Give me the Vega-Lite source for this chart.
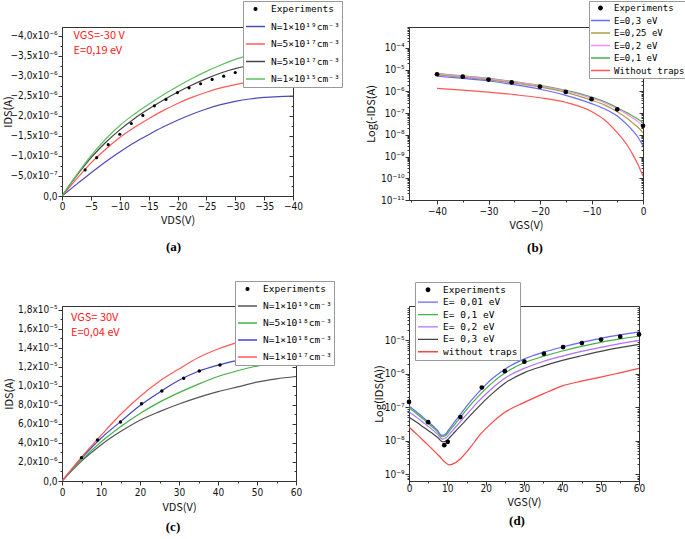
{
  "$schema": "https://vega.github.io/schema/vega-lite/v6.json",
  "padding": {"left": 2, "top": 0, "right": 0, "bottom": 0},
  "background": "white",
  "columns": 2,
  "bounds": "flush",
  "align": "each",
  "spacing": {"row": 106, "column": 113},
  "resolve": {"scale": {"color": "independent"}, "legend": {"color": "independent"}},
  "datasets": {
    "a": [
      {"series": "Experiments", "V": -4, "I": -0.65e-6}, {"series": "Experiments", "V": -6, "I": -0.956e-6},
      {"series": "Experiments", "V": -8, "I": -1.28e-6}, {"series": "Experiments", "V": -10, "I": -1.54e-6},
      {"series": "Experiments", "V": -12, "I": -1.81e-6}, {"series": "Experiments", "V": -14, "I": -2.01e-6},
      {"series": "Experiments", "V": -16, "I": -2.25e-6}, {"series": "Experiments", "V": -18, "I": -2.41e-6},
      {"series": "Experiments", "V": -20, "I": -2.58e-6}, {"series": "Experiments", "V": -22, "I": -2.70e-6},
      {"series": "Experiments", "V": -24, "I": -2.80e-6}, {"series": "Experiments", "V": -26, "I": -2.91e-6},
      {"series": "Experiments", "V": -28, "I": -2.99e-6}, {"series": "Experiments", "V": -30, "I": -3.08e-6},
      {"series": "N=1×10¹⁹cm⁻³", "V": 0, "I": 0}, {"series": "N=1×10¹⁹cm⁻³", "V": -2.5, "I": -0.29e-6},
      {"series": "N=1×10¹⁹cm⁻³", "V": -5, "I": -0.575e-6}, {"series": "N=1×10¹⁹cm⁻³", "V": -7.5, "I": -0.85e-6},
      {"series": "N=1×10¹⁹cm⁻³", "V": -10, "I": -1.10e-6}, {"series": "N=1×10¹⁹cm⁻³", "V": -12.5, "I": -1.33e-6},
      {"series": "N=1×10¹⁹cm⁻³", "V": -15, "I": -1.53e-6}, {"series": "N=1×10¹⁹cm⁻³", "V": -17.5, "I": -1.72e-6},
      {"series": "N=1×10¹⁹cm⁻³", "V": -20, "I": -1.89e-6}, {"series": "N=1×10¹⁹cm⁻³", "V": -22.5, "I": -2.04e-6},
      {"series": "N=1×10¹⁹cm⁻³", "V": -25, "I": -2.17e-6}, {"series": "N=1×10¹⁹cm⁻³", "V": -27.5, "I": -2.28e-6},
      {"series": "N=1×10¹⁹cm⁻³", "V": -30, "I": -2.36e-6}, {"series": "N=1×10¹⁹cm⁻³", "V": -32.5, "I": -2.42e-6},
      {"series": "N=1×10¹⁹cm⁻³", "V": -35, "I": -2.46e-6}, {"series": "N=1×10¹⁹cm⁻³", "V": -37.5, "I": -2.48e-6},
      {"series": "N=1×10¹⁹cm⁻³", "V": -40, "I": -2.49e-6},
      {"series": "N=5×10¹⁷cm⁻³", "V": 0, "I": 0}, {"series": "N=5×10¹⁷cm⁻³", "V": -2.5, "I": -0.42e-6},
      {"series": "N=5×10¹⁷cm⁻³", "V": -5, "I": -0.82e-6}, {"series": "N=5×10¹⁷cm⁻³", "V": -7.5, "I": -1.16e-6},
      {"series": "N=5×10¹⁷cm⁻³", "V": -10, "I": -1.46e-6}, {"series": "N=5×10¹⁷cm⁻³", "V": -12.5, "I": -1.71e-6},
      {"series": "N=5×10¹⁷cm⁻³", "V": -15, "I": -1.93e-6}, {"series": "N=5×10¹⁷cm⁻³", "V": -17.5, "I": -2.13e-6},
      {"series": "N=5×10¹⁷cm⁻³", "V": -20, "I": -2.31e-6}, {"series": "N=5×10¹⁷cm⁻³", "V": -22.5, "I": -2.46e-6},
      {"series": "N=5×10¹⁷cm⁻³", "V": -25, "I": -2.59e-6}, {"series": "N=5×10¹⁷cm⁻³", "V": -27.5, "I": -2.70e-6},
      {"series": "N=5×10¹⁷cm⁻³", "V": -30, "I": -2.78e-6}, {"series": "N=5×10¹⁷cm⁻³", "V": -32.5, "I": -2.84e-6},
      {"series": "N=5×10¹⁷cm⁻³", "V": -35, "I": -2.88e-6}, {"series": "N=5×10¹⁷cm⁻³", "V": -37.5, "I": -2.91e-6},
      {"series": "N=5×10¹⁷cm⁻³", "V": -40, "I": -2.92e-6},
      {"series": "N=5×10¹⁷cm⁻³ #2", "V": 0, "I": 0}, {"series": "N=5×10¹⁷cm⁻³ #2", "V": -2.5, "I": -0.50e-6},
      {"series": "N=5×10¹⁷cm⁻³ #2", "V": -5, "I": -0.95e-6}, {"series": "N=5×10¹⁷cm⁻³ #2", "V": -7.5, "I": -1.33e-6},
      {"series": "N=5×10¹⁷cm⁻³ #2", "V": -10, "I": -1.65e-6}, {"series": "N=5×10¹⁷cm⁻³ #2", "V": -12.5, "I": -1.93e-6},
      {"series": "N=5×10¹⁷cm⁻³ #2", "V": -15, "I": -2.17e-6}, {"series": "N=5×10¹⁷cm⁻³ #2", "V": -17.5, "I": -2.39e-6},
      {"series": "N=5×10¹⁷cm⁻³ #2", "V": -20, "I": -2.59e-6}, {"series": "N=5×10¹⁷cm⁻³ #2", "V": -22.5, "I": -2.77e-6},
      {"series": "N=5×10¹⁷cm⁻³ #2", "V": -25, "I": -2.93e-6}, {"series": "N=5×10¹⁷cm⁻³ #2", "V": -27.5, "I": -3.07e-6},
      {"series": "N=5×10¹⁷cm⁻³ #2", "V": -30, "I": -3.18e-6}, {"series": "N=5×10¹⁷cm⁻³ #2", "V": -32.5, "I": -3.25e-6},
      {"series": "N=5×10¹⁷cm⁻³ #2", "V": -35, "I": -3.29e-6}, {"series": "N=5×10¹⁷cm⁻³ #2", "V": -37.5, "I": -3.31e-6},
      {"series": "N=5×10¹⁷cm⁻³ #2", "V": -40, "I": -3.32e-6},
      {"series": "N=1×10¹⁵cm⁻³", "V": 0, "I": 0}, {"series": "N=1×10¹⁵cm⁻³", "V": -2.5, "I": -0.52e-6},
      {"series": "N=1×10¹⁵cm⁻³", "V": -5, "I": -1.0e-6}, {"series": "N=1×10¹⁵cm⁻³", "V": -7.5, "I": -1.41e-6},
      {"series": "N=1×10¹⁵cm⁻³", "V": -10, "I": -1.76e-6}, {"series": "N=1×10¹⁵cm⁻³", "V": -12.5, "I": -2.04e-6},
      {"series": "N=1×10¹⁵cm⁻³", "V": -15, "I": -2.29e-6}, {"series": "N=1×10¹⁵cm⁻³", "V": -17.5, "I": -2.52e-6},
      {"series": "N=1×10¹⁵cm⁻³", "V": -20, "I": -2.73e-6}, {"series": "N=1×10¹⁵cm⁻³", "V": -22.5, "I": -2.93e-6},
      {"series": "N=1×10¹⁵cm⁻³", "V": -25, "I": -3.11e-6}, {"series": "N=1×10¹⁵cm⁻³", "V": -27.5, "I": -3.27e-6},
      {"series": "N=1×10¹⁵cm⁻³", "V": -30, "I": -3.41e-6}, {"series": "N=1×10¹⁵cm⁻³", "V": -32.5, "I": -3.51e-6},
      {"series": "N=1×10¹⁵cm⁻³", "V": -35, "I": -3.57e-6}, {"series": "N=1×10¹⁵cm⁻³", "V": -37.5, "I": -3.61e-6},
      {"series": "N=1×10¹⁵cm⁻³", "V": -40, "I": -3.63e-6}
    ],
    "b": [
      {"series": "Experiments", "V": -40, "I": 6.2e-6}, {"series": "Experiments", "V": -35, "I": 4.8e-6},
      {"series": "Experiments", "V": -30, "I": 3.5e-6}, {"series": "Experiments", "V": -25.5, "I": 2.6e-6},
      {"series": "Experiments", "V": -20, "I": 1.66e-6}, {"series": "Experiments", "V": -15, "I": 9.5e-7},
      {"series": "Experiments", "V": -10, "I": 4.4e-7}, {"series": "Experiments", "V": -5, "I": 1.5e-7},
      {"series": "Experiments", "V": 0, "I": 2.6e-8},
      {"series": "E=0,1 eV", "V": -40, "I": 6.61e-6}, {"series": "E=0,1 eV", "V": -35, "I": 5.25e-6},
      {"series": "E=0,1 eV", "V": -30, "I": 3.98e-6}, {"series": "E=0,1 eV", "V": -25, "I": 2.82e-6},
      {"series": "E=0,1 eV", "V": -20, "I": 1.91e-6}, {"series": "E=0,1 eV", "V": -15, "I": 1.12e-6},
      {"series": "E=0,1 eV", "V": -10, "I": 5.5e-7}, {"series": "E=0,1 eV", "V": -7.5, "I": 3.39e-7},
      {"series": "E=0,1 eV", "V": -5, "I": 1.78e-7}, {"series": "E=0,1 eV", "V": -3, "I": 1.0e-7},
      {"series": "E=0,1 eV", "V": -2, "I": 7.41e-8}, {"series": "E=0,1 eV", "V": -1, "I": 5.37e-8},
      {"series": "E=0,1 eV", "V": 0, "I": 3.63e-8},
      {"series": "E=0,2 eV", "V": -40, "I": 6.46e-6}, {"series": "E=0,2 eV", "V": -35, "I": 5.01e-6},
      {"series": "E=0,2 eV", "V": -30, "I": 3.80e-6}, {"series": "E=0,2 eV", "V": -25, "I": 2.69e-6},
      {"series": "E=0,2 eV", "V": -20, "I": 1.78e-6}, {"series": "E=0,2 eV", "V": -15, "I": 1.05e-6},
      {"series": "E=0,2 eV", "V": -10, "I": 4.9e-7}, {"series": "E=0,2 eV", "V": -7.5, "I": 3.02e-7},
      {"series": "E=0,2 eV", "V": -5, "I": 1.58e-7}, {"series": "E=0,2 eV", "V": -3, "I": 8.5e-8},
      {"series": "E=0,2 eV", "V": -2, "I": 6.03e-8}, {"series": "E=0,2 eV", "V": -1, "I": 4.17e-8},
      {"series": "E=0,2 eV", "V": 0, "I": 2.57e-8},
      {"series": "E=0,25 eV", "V": -40, "I": 5.75e-6}, {"series": "E=0,25 eV", "V": -35, "I": 4.47e-6},
      {"series": "E=0,25 eV", "V": -30, "I": 3.39e-6}, {"series": "E=0,25 eV", "V": -25, "I": 2.40e-6},
      {"series": "E=0,25 eV", "V": -20, "I": 1.58e-6}, {"series": "E=0,25 eV", "V": -15, "I": 9.1e-7},
      {"series": "E=0,25 eV", "V": -10, "I": 3.98e-7}, {"series": "E=0,25 eV", "V": -7.5, "I": 2.40e-7},
      {"series": "E=0,25 eV", "V": -5, "I": 1.17e-7}, {"series": "E=0,25 eV", "V": -3, "I": 5.62e-8},
      {"series": "E=0,25 eV", "V": -2, "I": 3.55e-8}, {"series": "E=0,25 eV", "V": -1, "I": 2.24e-8},
      {"series": "E=0,25 eV", "V": 0, "I": 1.26e-8},
      {"series": "E=0,3 eV", "V": -40, "I": 5.01e-6}, {"series": "E=0,3 eV", "V": -35, "I": 3.98e-6},
      {"series": "E=0,3 eV", "V": -30, "I": 3.02e-6}, {"series": "E=0,3 eV", "V": -25, "I": 2.04e-6},
      {"series": "E=0,3 eV", "V": -20, "I": 1.26e-6}, {"series": "E=0,3 eV", "V": -15, "I": 6.6e-7},
      {"series": "E=0,3 eV", "V": -10, "I": 2.75e-7}, {"series": "E=0,3 eV", "V": -7.5, "I": 1.58e-7},
      {"series": "E=0,3 eV", "V": -5, "I": 7.41e-8}, {"series": "E=0,3 eV", "V": -3, "I": 2.82e-8},
      {"series": "E=0,3 eV", "V": -2, "I": 1.58e-8}, {"series": "E=0,3 eV", "V": -1, "I": 7.94e-9},
      {"series": "E=0,3 eV", "V": 0, "I": 3.09e-9},
      {"series": "Without traps", "V": -40, "I": 1.38e-6}, {"series": "Without traps", "V": -35, "I": 1.15e-6},
      {"series": "Without traps", "V": -30, "I": 9.33e-7}, {"series": "Without traps", "V": -25, "I": 7.08e-7},
      {"series": "Without traps", "V": -20, "I": 5.13e-7}, {"series": "Without traps", "V": -15, "I": 3.16e-7},
      {"series": "Without traps", "V": -10, "I": 1.2e-7}, {"series": "Without traps", "V": -7.5, "I": 5.0e-8},
      {"series": "Without traps", "V": -5, "I": 1.26e-8}, {"series": "Without traps", "V": -3, "I": 3.16e-9},
      {"series": "Without traps", "V": -2, "I": 1.26e-9}, {"series": "Without traps", "V": -1, "I": 4.47e-10},
      {"series": "Without traps", "V": 0, "I": 1.26e-10}
    ],
    "c": [
      {"series": "Experiments", "V": 5.0, "I": 2.46e-6}, {"series": "Experiments", "V": 9.1, "I": 4.32e-6},
      {"series": "Experiments", "V": 15.0, "I": 6.21e-6}, {"series": "Experiments", "V": 20.4, "I": 8.14e-6},
      {"series": "Experiments", "V": 25.6, "I": 9.47e-6}, {"series": "Experiments", "V": 31.2, "I": 1.081e-5},
      {"series": "Experiments", "V": 35.2, "I": 1.158e-5}, {"series": "Experiments", "V": 40.5, "I": 1.221e-5},
      {"series": "N=1×10¹⁹cm⁻³", "V": 0, "I": 0}, {"series": "N=1×10¹⁹cm⁻³", "V": 5, "I": 2.1e-6},
      {"series": "N=1×10¹⁹cm⁻³", "V": 10, "I": 3.8e-6}, {"series": "N=1×10¹⁹cm⁻³", "V": 15, "I": 5.2e-6},
      {"series": "N=1×10¹⁹cm⁻³", "V": 20, "I": 6.4e-6}, {"series": "N=1×10¹⁹cm⁻³", "V": 25, "I": 7.3e-6},
      {"series": "N=1×10¹⁹cm⁻³", "V": 30, "I": 8.1e-6}, {"series": "N=1×10¹⁹cm⁻³", "V": 35, "I": 8.8e-6},
      {"series": "N=1×10¹⁹cm⁻³", "V": 40, "I": 9.4e-6}, {"series": "N=1×10¹⁹cm⁻³", "V": 45, "I": 9.9e-6},
      {"series": "N=1×10¹⁹cm⁻³", "V": 50, "I": 1.04e-5}, {"series": "N=1×10¹⁹cm⁻³", "V": 55, "I": 1.075e-5},
      {"series": "N=1×10¹⁹cm⁻³", "V": 60, "I": 1.10e-5},
      {"series": "N=5×10¹⁸cm⁻³", "V": 0, "I": 0}, {"series": "N=5×10¹⁸cm⁻³", "V": 5, "I": 2.2e-6},
      {"series": "N=5×10¹⁸cm⁻³", "V": 10, "I": 4.1e-6}, {"series": "N=5×10¹⁸cm⁻³", "V": 15, "I": 5.7e-6},
      {"series": "N=5×10¹⁸cm⁻³", "V": 20, "I": 7.1e-6}, {"series": "N=5×10¹⁸cm⁻³", "V": 25, "I": 8.3e-6},
      {"series": "N=5×10¹⁸cm⁻³", "V": 30, "I": 9.3e-6}, {"series": "N=5×10¹⁸cm⁻³", "V": 35, "I": 1.02e-5},
      {"series": "N=5×10¹⁸cm⁻³", "V": 40, "I": 1.10e-5}, {"series": "N=5×10¹⁸cm⁻³", "V": 45, "I": 1.16e-5},
      {"series": "N=5×10¹⁸cm⁻³", "V": 50, "I": 1.21e-5}, {"series": "N=5×10¹⁸cm⁻³", "V": 55, "I": 1.24e-5},
      {"series": "N=5×10¹⁸cm⁻³", "V": 60, "I": 1.26e-5},
      {"series": "N=1×10¹⁸cm⁻³", "V": 0, "I": 0}, {"series": "N=1×10¹⁸cm⁻³", "V": 5, "I": 2.4e-6},
      {"series": "N=1×10¹⁸cm⁻³", "V": 10, "I": 4.5e-6}, {"series": "N=1×10¹⁸cm⁻³", "V": 15, "I": 6.25e-6},
      {"series": "N=1×10¹⁸cm⁻³", "V": 20, "I": 7.95e-6}, {"series": "N=1×10¹⁸cm⁻³", "V": 25, "I": 9.35e-6},
      {"series": "N=1×10¹⁸cm⁻³", "V": 30, "I": 1.06e-5}, {"series": "N=1×10¹⁸cm⁻³", "V": 35, "I": 1.155e-5},
      {"series": "N=1×10¹⁸cm⁻³", "V": 40, "I": 1.22e-5}, {"series": "N=1×10¹⁸cm⁻³", "V": 45, "I": 1.27e-5},
      {"series": "N=1×10¹⁸cm⁻³", "V": 50, "I": 1.31e-5}, {"series": "N=1×10¹⁸cm⁻³", "V": 55, "I": 1.33e-5},
      {"series": "N=1×10¹⁸cm⁻³", "V": 60, "I": 1.34e-5},
      {"series": "N=1×10¹⁷cm⁻³", "V": 0, "I": 0}, {"series": "N=1×10¹⁷cm⁻³", "V": 5, "I": 2.5e-6},
      {"series": "N=1×10¹⁷cm⁻³", "V": 10, "I": 4.8e-6}, {"series": "N=1×10¹⁷cm⁻³", "V": 15, "I": 7.0e-6},
      {"series": "N=1×10¹⁷cm⁻³", "V": 20, "I": 8.9e-6}, {"series": "N=1×10¹⁷cm⁻³", "V": 25, "I": 1.05e-5},
      {"series": "N=1×10¹⁷cm⁻³", "V": 30, "I": 1.18e-5}, {"series": "N=1×10¹⁷cm⁻³", "V": 35, "I": 1.30e-5},
      {"series": "N=1×10¹⁷cm⁻³", "V": 40, "I": 1.39e-5}, {"series": "N=1×10¹⁷cm⁻³", "V": 45, "I": 1.46e-5},
      {"series": "N=1×10¹⁷cm⁻³", "V": 50, "I": 1.52e-5}, {"series": "N=1×10¹⁷cm⁻³", "V": 55, "I": 1.55e-5},
      {"series": "N=1×10¹⁷cm⁻³", "V": 60, "I": 1.57e-5}
    ],
    "d": [
      {"series": "Experiments", "V": 0, "I": 1.45e-7}, {"series": "Experiments", "V": 5, "I": 3.6e-8},
      {"series": "Experiments", "V": 9.2, "I": 7.4e-9}, {"series": "Experiments", "V": 10.1, "I": 9.3e-9},
      {"series": "Experiments", "V": 13.4, "I": 5.1e-8}, {"series": "Experiments", "V": 19, "I": 3.9e-7},
      {"series": "Experiments", "V": 25, "I": 1.2e-6}, {"series": "Experiments", "V": 30.1, "I": 2.3e-6},
      {"series": "Experiments", "V": 35.2, "I": 4.0e-6}, {"series": "Experiments", "V": 40.2, "I": 6.3e-6},
      {"series": "Experiments", "V": 45.1, "I": 8.3e-6}, {"series": "Experiments", "V": 50.1, "I": 1.05e-5},
      {"series": "Experiments", "V": 55.1, "I": 1.29e-5}, {"series": "Experiments", "V": 60, "I": 1.5e-5},
      {"series": "E= 0,01 eV", "V": 0, "I": 1.10e-7}, {"series": "E= 0,01 eV", "V": 2, "I": 7.24e-8},
      {"series": "E= 0,01 eV", "V": 4, "I": 4.68e-8}, {"series": "E= 0,01 eV", "V": 6, "I": 2.95e-8},
      {"series": "E= 0,01 eV", "V": 7.5, "I": 2.0e-8}, {"series": "E= 0,01 eV", "V": 8.5, "I": 1.45e-8},
      {"series": "E= 0,01 eV", "V": 9.5, "I": 1.58e-8}, {"series": "E= 0,01 eV", "V": 10.5, "I": 2.24e-8},
      {"series": "E= 0,01 eV", "V": 12, "I": 3.8e-8}, {"series": "E= 0,01 eV", "V": 14, "I": 7.59e-8},
      {"series": "E= 0,01 eV", "V": 16, "I": 1.48e-7}, {"series": "E= 0,01 eV", "V": 18, "I": 2.69e-7},
      {"series": "E= 0,01 eV", "V": 20, "I": 4.68e-7}, {"series": "E= 0,01 eV", "V": 22, "I": 7.59e-7},
      {"series": "E= 0,01 eV", "V": 25, "I": 1.38e-6}, {"series": "E= 0,01 eV", "V": 30, "I": 2.75e-6},
      {"series": "E= 0,01 eV", "V": 35, "I": 4.37e-6}, {"series": "E= 0,01 eV", "V": 40, "I": 6.31e-6},
      {"series": "E= 0,01 eV", "V": 45, "I": 8.71e-6}, {"series": "E= 0,01 eV", "V": 50, "I": 1.15e-5},
      {"series": "E= 0,01 eV", "V": 55, "I": 1.45e-5}, {"series": "E= 0,01 eV", "V": 60, "I": 1.78e-5},
      {"series": "E= 0,1 eV", "V": 0, "I": 9.77e-8}, {"series": "E= 0,1 eV", "V": 2, "I": 6.46e-8},
      {"series": "E= 0,1 eV", "V": 4, "I": 4.17e-8}, {"series": "E= 0,1 eV", "V": 6, "I": 2.63e-8},
      {"series": "E= 0,1 eV", "V": 7.5, "I": 1.82e-8}, {"series": "E= 0,1 eV", "V": 8.6, "I": 1.32e-8},
      {"series": "E= 0,1 eV", "V": 9.6, "I": 1.45e-8}, {"series": "E= 0,1 eV", "V": 10.6, "I": 2.0e-8},
      {"series": "E= 0,1 eV", "V": 12, "I": 3.16e-8}, {"series": "E= 0,1 eV", "V": 14, "I": 6.17e-8},
      {"series": "E= 0,1 eV", "V": 16, "I": 1.17e-7}, {"series": "E= 0,1 eV", "V": 18, "I": 2.09e-7},
      {"series": "E= 0,1 eV", "V": 20, "I": 3.55e-7}, {"series": "E= 0,1 eV", "V": 22, "I": 5.75e-7},
      {"series": "E= 0,1 eV", "V": 25, "I": 1.05e-6}, {"series": "E= 0,1 eV", "V": 30, "I": 2.14e-6},
      {"series": "E= 0,1 eV", "V": 35, "I": 3.31e-6}, {"series": "E= 0,1 eV", "V": 40, "I": 4.79e-6},
      {"series": "E= 0,1 eV", "V": 45, "I": 6.61e-6}, {"series": "E= 0,1 eV", "V": 50, "I": 8.71e-6},
      {"series": "E= 0,1 eV", "V": 55, "I": 1.10e-5}, {"series": "E= 0,1 eV", "V": 60, "I": 1.35e-5},
      {"series": "E= 0,2 eV", "V": 0, "I": 7.41e-8}, {"series": "E= 0,2 eV", "V": 2, "I": 5.01e-8},
      {"series": "E= 0,2 eV", "V": 4, "I": 3.31e-8}, {"series": "E= 0,2 eV", "V": 6, "I": 2.19e-8},
      {"series": "E= 0,2 eV", "V": 7.5, "I": 1.55e-8}, {"series": "E= 0,2 eV", "V": 8.7, "I": 1.12e-8},
      {"series": "E= 0,2 eV", "V": 9.7, "I": 1.23e-8}, {"series": "E= 0,2 eV", "V": 10.7, "I": 1.66e-8},
      {"series": "E= 0,2 eV", "V": 12, "I": 2.45e-8}, {"series": "E= 0,2 eV", "V": 14, "I": 4.47e-8},
      {"series": "E= 0,2 eV", "V": 16, "I": 8.13e-8}, {"series": "E= 0,2 eV", "V": 18, "I": 1.45e-7},
      {"series": "E= 0,2 eV", "V": 20, "I": 2.45e-7}, {"series": "E= 0,2 eV", "V": 22, "I": 3.98e-7},
      {"series": "E= 0,2 eV", "V": 25, "I": 7.41e-7}, {"series": "E= 0,2 eV", "V": 30, "I": 1.45e-6},
      {"series": "E= 0,2 eV", "V": 35, "I": 2.34e-6}, {"series": "E= 0,2 eV", "V": 40, "I": 3.39e-6},
      {"series": "E= 0,2 eV", "V": 45, "I": 4.68e-6}, {"series": "E= 0,2 eV", "V": 50, "I": 6.17e-6},
      {"series": "E= 0,2 eV", "V": 55, "I": 7.94e-6}, {"series": "E= 0,2 eV", "V": 60, "I": 1.0e-5},
      {"series": "E= 0,3 eV", "V": 0, "I": 5.01e-8}, {"series": "E= 0,3 eV", "V": 2, "I": 3.55e-8},
      {"series": "E= 0,3 eV", "V": 4, "I": 2.45e-8}, {"series": "E= 0,3 eV", "V": 6, "I": 1.70e-8},
      {"series": "E= 0,3 eV", "V": 7.5, "I": 1.26e-8}, {"series": "E= 0,3 eV", "V": 8.8, "I": 9.33e-9},
      {"series": "E= 0,3 eV", "V": 9.8, "I": 1.0e-8}, {"series": "E= 0,3 eV", "V": 10.8, "I": 1.32e-8},
      {"series": "E= 0,3 eV", "V": 12, "I": 1.86e-8}, {"series": "E= 0,3 eV", "V": 14, "I": 3.24e-8},
      {"series": "E= 0,3 eV", "V": 16, "I": 5.75e-8}, {"series": "E= 0,3 eV", "V": 18, "I": 1.0e-7},
      {"series": "E= 0,3 eV", "V": 20, "I": 1.70e-7}, {"series": "E= 0,3 eV", "V": 22, "I": 2.75e-7},
      {"series": "E= 0,3 eV", "V": 25, "I": 5.25e-7}, {"series": "E= 0,3 eV", "V": 30, "I": 1.07e-6},
      {"series": "E= 0,3 eV", "V": 35, "I": 1.70e-6}, {"series": "E= 0,3 eV", "V": 40, "I": 2.51e-6},
      {"series": "E= 0,3 eV", "V": 45, "I": 3.47e-6}, {"series": "E= 0,3 eV", "V": 50, "I": 4.68e-6},
      {"series": "E= 0,3 eV", "V": 55, "I": 6.03e-6}, {"series": "E= 0,3 eV", "V": 60, "I": 7.59e-6},
      {"series": "without traps", "V": 0, "I": 2.57e-8}, {"series": "without traps", "V": 2, "I": 1.58e-8},
      {"series": "without traps", "V": 4, "I": 9.55e-9}, {"series": "without traps", "V": 6, "I": 5.75e-9},
      {"series": "without traps", "V": 8, "I": 3.39e-9}, {"series": "without traps", "V": 9.5, "I": 2.24e-9},
      {"series": "without traps", "V": 10.5, "I": 1.91e-9}, {"series": "without traps", "V": 11.5, "I": 2.04e-9},
      {"series": "without traps", "V": 13.3, "I": 2.82e-9}, {"series": "without traps", "V": 15.9, "I": 6.17e-9},
      {"series": "without traps", "V": 18.6, "I": 1.55e-8}, {"series": "without traps", "V": 21.2, "I": 3.09e-8},
      {"series": "without traps", "V": 25, "I": 7.08e-8}, {"series": "without traps", "V": 30, "I": 1.38e-7},
      {"series": "without traps", "V": 35, "I": 2.51e-7}, {"series": "without traps", "V": 40, "I": 4.37e-7},
      {"series": "without traps", "V": 45, "I": 6.03e-7}, {"series": "without traps", "V": 50, "I": 7.94e-7},
      {"series": "without traps", "V": 55, "I": 1.07e-6}, {"series": "without traps", "V": 60, "I": 1.45e-6}
    ]
  },
  "concat": [
    {
      "width": 231, "height": 169,
      "data": {"name": "a"},
      "title": {"text": "(a)", "orient": "bottom", "anchor": "middle", "offset": 16, "dx": -4, "font": "Liberation Serif", "fontSize": 13, "fontWeight": "bold", "color": "black"},
      "resolve": {"axis": {"x": "independent", "y": "independent"}},
      "layer": [
        {
          "transform": [{"filter": "datum.series !== 'Experiments'"}],
          "mark": {"type": "line", "strokeWidth": 1.2, "interpolate": "monotone", "clip": true},
          "encoding": {
            "x": {"field": "V", "type": "quantitative", "scale": {"domain": [0, -40], "nice": false, "zero": false},
              "axis": {"title": "VDS(V)", "values": [0, -5, -10, -15, -20, -25, -30, -35, -40], "tickSize": 4, "labelPadding": 1, "titlePadding": 3}},
            "y": {"field": "I", "type": "quantitative", "scale": {"domain": [0, -4.217e-6], "nice": false, "zero": false},
              "axis": {"title": "IDS(A)", "titleX": -53.5, "titleBaseline": "middle", "labelPadding": 1,
                "values": [0, -0.25e-6, -0.5e-6, -0.75e-6, -1e-6, -1.25e-6, -1.5e-6, -1.75e-6, -2e-6, -2.25e-6, -2.5e-6, -2.75e-6, -3e-6, -3.25e-6, -3.5e-6, -3.75e-6, -4e-6],
                "tickSize": {"condition": {"test": "round(abs(datum.value)*4e6) % 2 == 1", "value": 2}, "value": 4},
                "labelExpr": "round(abs(datum.value)*4e6) % 2 == 1 ? '' : abs(datum.value) < 1e-12 ? '0,0' : abs(datum.value) < 9e-7 ? replace(format(datum.value*1e7, '.1f'), '.', ',') + 'x10⁻⁷' : replace(format(datum.value*1e6, '.1f'), '.', ',') + 'x10⁻⁶'"}},
            "color": {"field": "series", "type": "nominal",
              "scale": {"domain": ["Experiments", "N=1×10¹⁹cm⁻³", "N=5×10¹⁷cm⁻³", "N=5×10¹⁷cm⁻³ #2", "N=1×10¹⁵cm⁻³"], "range": ["black", "#4b4bb8", "#ff5a5a", "#444444", "#5cc05c"]},
              "legend": {"title": null, "orient": "none", "legendX": 181, "legendY": -26, "fillColor": "white", "strokeColor": "#999", "padding": 2,
                "symbolType": "stroke", "symbolSize": 360, "symbolStrokeWidth": 1.3, "clipHeight": 12, "rowPadding": 5.5, "labelOffset": 5,
                "labelFontSize": 9.5, "labelLimit": 300,
                "labelExpr": "replace(datum.label, ' #2', '')",
                "encode": {"symbols": {"update": {
                  "shape": {"signal": "datum.value === 'Experiments' ? 'circle' : 'stroke'"},
                  "size": {"signal": "datum.value === 'Experiments' ? 8 : 360"},
                  "fill": {"signal": "datum.value === 'Experiments' ? 'black' : 'transparent'"}
                }}}}}
          }
        },
        {
          "transform": [{"filter": "datum.series === 'Experiments'"}],
          "mark": {"type": "point", "filled": true, "size": 10, "opacity": 1},
          "encoding": {
            "x": {"field": "V", "type": "quantitative", "axis": null},
            "y": {"field": "I", "type": "quantitative",
              "axis": {"orient": "right", "labels": false, "title": null, "domain": false,
                "values": [0, -0.25e-6, -0.5e-6, -0.75e-6, -1e-6, -1.25e-6, -1.5e-6, -1.75e-6, -2e-6, -2.25e-6, -2.5e-6, -2.75e-6, -3e-6, -3.25e-6, -3.5e-6, -3.75e-6, -4e-6],
                "tickSize": {"condition": {"test": "round(abs(datum.value)*4e6) % 2 == 1", "value": -2}, "value": -4}}},
            "color": {"field": "series", "type": "nominal"}
          }
        },
        {
          "data": {"values": [{}]},
          "mark": {"type": "text", "align": "left", "baseline": "top", "color": "#ff2020", "fontSize": 11, "lineHeight": 15, "text": ["VGS=-30 V", "E=0,19 eV"]},
          "encoding": {"x": {"datum": -2, "axis": null}, "y": {"datum": -4.15e-6, "axis": null}}
        }
      ]
    },
    {
      "width": 234, "height": 173,
      "data": {"name": "b"},
      "title": {"text": "(b)", "orient": "bottom", "anchor": "middle", "offset": 12, "dx": 9, "font": "Liberation Serif", "fontSize": 13, "fontWeight": "bold", "color": "black"},
      "resolve": {"axis": {"x": "independent", "y": "independent"}},
      "layer": [
        {
          "transform": [{"filter": "datum.series !== 'Experiments'"}],
          "mark": {"type": "line", "strokeWidth": 1.2, "interpolate": "monotone", "clip": true},
          "encoding": {
            "x": {"field": "V", "type": "quantitative", "scale": {"domain": [-45.44, 0], "nice": false, "zero": false},
              "axis": {"title": "VGS(V)", "values": [-45, -40, -35, -30, -25, -20, -15, -10, -5, 0],
                "tickSize": {"condition": {"test": "datum.value % 10 != 0", "value": 2}, "value": 4},
                "labelExpr": "datum.value % 10 != 0 ? '' : datum.label", "labelPadding": 2, "titlePadding": 3}},
            "y": {"field": "I", "type": "quantitative", "scale": {"type": "log", "domain": [1e-11, 9.27e-4], "nice": false},
              "axis": {"title": "Log(-IDS(A)", "titleX": -38, "titleBaseline": "middle", "labelPadding": 1,
                "values": [1e-11, 2e-11, 3e-11, 4e-11, 5e-11, 6e-11, 7e-11, 8e-11, 9e-11,
                           1e-10, 2e-10, 3e-10, 4e-10, 5e-10, 6e-10, 7e-10, 8e-10, 9e-10,
                           1e-9, 2e-9, 3e-9, 4e-9, 5e-9, 6e-9, 7e-9, 8e-9, 9e-9,
                           1e-8, 2e-8, 3e-8, 4e-8, 5e-8, 6e-8, 7e-8, 8e-8, 9e-8,
                           1e-7, 2e-7, 3e-7, 4e-7, 5e-7, 6e-7, 7e-7, 8e-7, 9e-7,
                           1e-6, 2e-6, 3e-6, 4e-6, 5e-6, 6e-6, 7e-6, 8e-6, 9e-6,
                           1e-5, 2e-5, 3e-5, 4e-5, 5e-5, 6e-5, 7e-5, 8e-5, 9e-5,
                           1e-4, 2e-4, 3e-4, 4e-4, 5e-4, 6e-4, 7e-4, 8e-4, 9e-4],
                "tickSize": {"condition": {"test": "abs(log(datum.value)/LN10 - round(log(datum.value)/LN10)) > 0.01", "value": 2}, "value": 4},
                "labelExpr": "abs(log(datum.value)/LN10 - round(log(datum.value)/LN10)) > 0.01 ? '' : '10' + (round(log(datum.value)/LN10) <= -10 ? '⁻¹' + ['⁰','¹','²','³','⁴','⁵','⁶','⁷','⁸','⁹'][-round(log(datum.value)/LN10) - 10] : '⁻' + ['⁰','¹','²','³','⁴','⁵','⁶','⁷','⁸','⁹'][-round(log(datum.value)/LN10)])"}},
            "color": {"field": "series", "type": "nominal",
              "scale": {"domain": ["Experiments", "E=0,3 eV", "E=0,25 eV", "E=0,2 eV", "E=0,1 eV", "Without traps"], "range": ["black", "#6a6aff", "#a8a040", "#ff88ff", "#4caf4c", "#ff5555"]},
              "legend": {"title": null, "orient": "none", "legendX": 180, "legendY": -26, "fillColor": "white", "strokeColor": "#999", "padding": 1,
                "symbolType": "stroke", "symbolSize": 361, "symbolStrokeWidth": 1.3, "clipHeight": 12, "rowPadding": 0.5, "labelOffset": 3,
                "labelFontSize": 9, "labelLimit": 300,
                "encode": {"symbols": {"update": {
                  "shape": {"signal": "datum.value === 'Experiments' ? 'circle' : 'stroke'"},
                  "size": {"signal": "datum.value === 'Experiments' ? 12 : 361"},
                  "fill": {"signal": "datum.value === 'Experiments' ? 'black' : 'transparent'"}
                }}}}}
          }
        },
        {
          "transform": [{"filter": "datum.series === 'Experiments'"}],
          "mark": {"type": "point", "filled": true, "size": 22, "opacity": 1},
          "encoding": {
            "x": {"field": "V", "type": "quantitative", "axis": null},
            "y": {"field": "I", "type": "quantitative",
              "axis": {"orient": "right", "labels": false, "title": null, "domain": false,
                "values": [1e-11, 2e-11, 3e-11, 4e-11, 5e-11, 6e-11, 7e-11, 8e-11, 9e-11,
                           1e-10, 2e-10, 3e-10, 4e-10, 5e-10, 6e-10, 7e-10, 8e-10, 9e-10,
                           1e-9, 2e-9, 3e-9, 4e-9, 5e-9, 6e-9, 7e-9, 8e-9, 9e-9,
                           1e-8, 2e-8, 3e-8, 4e-8, 5e-8, 6e-8, 7e-8, 8e-8, 9e-8,
                           1e-7, 2e-7, 3e-7, 4e-7, 5e-7, 6e-7, 7e-7, 8e-7, 9e-7,
                           1e-6, 2e-6, 3e-6, 4e-6, 5e-6, 6e-6, 7e-6, 8e-6, 9e-6,
                           1e-5, 2e-5, 3e-5, 4e-5, 5e-5, 6e-5, 7e-5, 8e-5, 9e-5,
                           1e-4, 2e-4, 3e-4, 4e-4, 5e-4, 6e-4, 7e-4, 8e-4, 9e-4],
                "tickSize": {"condition": {"test": "abs(log(datum.value)/LN10 - round(log(datum.value)/LN10)) > 0.01", "value": -2}, "value": -4}}},
            "color": {"field": "series", "type": "nominal"}
          }
        }
      ]
    },
    {
      "width": 234, "height": 175,
      "data": {"name": "c"},
      "title": {"text": "(c)", "orient": "bottom", "anchor": "middle", "offset": 9, "dx": -6, "font": "Liberation Serif", "fontSize": 13, "fontWeight": "bold", "color": "black"},
      "resolve": {"axis": {"x": "independent", "y": "independent"}},
      "layer": [
        {
          "transform": [{"filter": "datum.series !== 'Experiments'"}],
          "mark": {"type": "line", "strokeWidth": 1.2, "interpolate": "monotone", "clip": true},
          "encoding": {
            "x": {"field": "V", "type": "quantitative", "scale": {"domain": [0, 60], "nice": false, "zero": false},
              "axis": {"title": "VDS(V)", "values": [0, 5, 10, 15, 20, 25, 30, 35, 40, 45, 50, 55, 60],
                "tickSize": {"condition": {"test": "datum.value % 10 != 0", "value": 2}, "value": 4},
                "labelExpr": "datum.value % 10 != 0 ? '' : datum.label", "labelPadding": 2, "titlePadding": 4}},
            "y": {"field": "I", "type": "quantitative", "scale": {"domain": [0, 1.842e-5], "nice": false, "zero": false},
              "axis": {"title": "IDS(A)", "titleX": -53, "titleBaseline": "middle", "labelPadding": 1,
                "values": [0, 1e-6, 2e-6, 3e-6, 4e-6, 5e-6, 6e-6, 7e-6, 8e-6, 9e-6, 1e-5, 1.1e-5, 1.2e-5, 1.3e-5, 1.4e-5, 1.5e-5, 1.6e-5, 1.7e-5, 1.8e-5],
                "tickSize": {"condition": {"test": "round(datum.value*1e6) % 2 == 1", "value": 2}, "value": 4},
                "labelExpr": "round(datum.value*1e6) % 2 == 1 ? '' : datum.value < 1e-12 ? '0,0' : datum.value > 9.5e-6 ? replace(format(datum.value*1e5, '.1f'), '.', ',') + 'x10⁻⁵' : replace(format(datum.value*1e6, '.1f'), '.', ',') + 'x10⁻⁶'"}},
            "color": {"field": "series", "type": "nominal",
              "scale": {"domain": ["Experiments", "N=1×10¹⁹cm⁻³", "N=5×10¹⁸cm⁻³", "N=1×10¹⁸cm⁻³", "N=1×10¹⁷cm⁻³"], "range": ["black", "#555555", "#44b044", "#4444c0", "#ff5a5a"]},
              "legend": {"title": null, "orient": "none", "legendX": 173, "legendY": -25, "fillColor": "white", "strokeColor": "#999", "padding": 2,
                "symbolType": "stroke", "symbolSize": 360, "symbolStrokeWidth": 1.3, "clipHeight": 12, "rowPadding": 5, "labelOffset": 5,
                "labelFontSize": 9.5, "labelLimit": 300,
                "encode": {"symbols": {"update": {
                  "shape": {"signal": "datum.value === 'Experiments' ? 'circle' : 'stroke'"},
                  "size": {"signal": "datum.value === 'Experiments' ? 8 : 360"},
                  "fill": {"signal": "datum.value === 'Experiments' ? 'black' : 'transparent'"}
                }}}}}
          }
        },
        {
          "transform": [{"filter": "datum.series === 'Experiments'"}],
          "mark": {"type": "point", "filled": true, "size": 12, "opacity": 1},
          "encoding": {
            "x": {"field": "V", "type": "quantitative", "axis": null},
            "y": {"field": "I", "type": "quantitative",
              "axis": {"orient": "right", "labels": false, "title": null, "domain": false,
                "values": [0, 1e-6, 2e-6, 3e-6, 4e-6, 5e-6, 6e-6, 7e-6, 8e-6, 9e-6, 1e-5, 1.1e-5, 1.2e-5, 1.3e-5, 1.4e-5, 1.5e-5, 1.6e-5, 1.7e-5, 1.8e-5],
                "tickSize": {"condition": {"test": "round(datum.value*1e6) % 2 == 1", "value": -2}, "value": -4}}},
            "color": {"field": "series", "type": "nominal"}
          }
        },
        {
          "data": {"values": [{}]},
          "mark": {"type": "text", "align": "left", "baseline": "top", "color": "#ff2020", "fontSize": 11, "lineHeight": 15, "text": ["VGS= 30V", "E=0,04 eV"]},
          "encoding": {"x": {"datum": 2.3, "axis": null}, "y": {"datum": 1.775e-5, "axis": null}}
        }
      ]
    },
    {
      "width": 230, "height": 175,
      "data": {"name": "d"},
      "title": {"text": "(d)", "orient": "bottom", "anchor": "middle", "offset": 8, "dx": -7, "font": "Liberation Serif", "fontSize": 13, "fontWeight": "bold", "color": "black"},
      "resolve": {"axis": {"x": "independent", "y": "independent"}},
      "layer": [
        {
          "transform": [{"filter": "datum.series !== 'Experiments'"}],
          "mark": {"type": "line", "strokeWidth": 1.2, "interpolate": "monotone", "clip": true},
          "encoding": {
            "x": {"field": "V", "type": "quantitative", "scale": {"domain": [0, 60], "nice": false, "zero": false},
              "axis": {"title": "VGS(V)", "values": [0, 5, 10, 15, 20, 25, 30, 35, 40, 45, 50, 55, 60],
                "tickSize": {"condition": {"test": "datum.value % 10 != 0", "value": 2}, "value": 4},
                "labelExpr": "datum.value % 10 != 0 ? '' : datum.label", "labelPadding": -2, "titlePadding": 3}},
            "y": {"field": "I", "type": "quantitative", "scale": {"type": "log", "domain": [6.3e-10, 1.06e-4], "nice": false},
              "axis": {"title": "Log(IDS(A))", "titleX": -30, "titleBaseline": "middle", "labelPadding": 1,
                "values": [7e-10, 8e-10, 9e-10,
                           1e-9, 2e-9, 3e-9, 4e-9, 5e-9, 6e-9, 7e-9, 8e-9, 9e-9,
                           1e-8, 2e-8, 3e-8, 4e-8, 5e-8, 6e-8, 7e-8, 8e-8, 9e-8,
                           1e-7, 2e-7, 3e-7, 4e-7, 5e-7, 6e-7, 7e-7, 8e-7, 9e-7,
                           1e-6, 2e-6, 3e-6, 4e-6, 5e-6, 6e-6, 7e-6, 8e-6, 9e-6,
                           1e-5, 2e-5, 3e-5, 4e-5, 5e-5, 6e-5, 7e-5, 8e-5, 9e-5],
                "tickSize": {"condition": {"test": "abs(log(datum.value)/LN10 - round(log(datum.value)/LN10)) > 0.01", "value": 2}, "value": 4},
                "labelExpr": "abs(log(datum.value)/LN10 - round(log(datum.value)/LN10)) > 0.01 ? '' : '10' + (round(log(datum.value)/LN10) <= -10 ? '⁻¹' + ['⁰','¹','²','³','⁴','⁵','⁶','⁷','⁸','⁹'][-round(log(datum.value)/LN10) - 10] : '⁻' + ['⁰','¹','²','³','⁴','⁵','⁶','⁷','⁸','⁹'][-round(log(datum.value)/LN10)])"}},
            "color": {"field": "series", "type": "nominal",
              "scale": {"domain": ["Experiments", "E= 0,01 eV", "E= 0,1 eV", "E= 0,2 eV", "E= 0,3 eV", "without traps"], "range": ["black", "#6666ff", "#44b044", "#b070ff", "#444444", "#ff4444"]},
              "legend": {"title": null, "orient": "none", "legendX": 6, "legendY": -24, "fillColor": "white", "strokeColor": "#999", "padding": 2,
                "symbolType": "stroke", "symbolSize": 400, "symbolStrokeWidth": 1.3, "clipHeight": 11.5, "rowPadding": 0.4, "labelOffset": 4,
                "labelFontSize": 9.5, "labelLimit": 300,
                "encode": {"symbols": {"update": {
                  "shape": {"signal": "datum.value === 'Experiments' ? 'circle' : 'stroke'"},
                  "size": {"signal": "datum.value === 'Experiments' ? 12 : 400"},
                  "fill": {"signal": "datum.value === 'Experiments' ? 'black' : 'transparent'"}
                }}}}}
          }
        },
        {
          "transform": [{"filter": "datum.series === 'Experiments'"}],
          "mark": {"type": "point", "filled": true, "size": 22, "opacity": 1},
          "encoding": {
            "x": {"field": "V", "type": "quantitative", "axis": null},
            "y": {"field": "I", "type": "quantitative",
              "axis": {"orient": "right", "labels": false, "title": null, "domain": false,
                "values": [7e-10, 8e-10, 9e-10,
                           1e-9, 2e-9, 3e-9, 4e-9, 5e-9, 6e-9, 7e-9, 8e-9, 9e-9,
                           1e-8, 2e-8, 3e-8, 4e-8, 5e-8, 6e-8, 7e-8, 8e-8, 9e-8,
                           1e-7, 2e-7, 3e-7, 4e-7, 5e-7, 6e-7, 7e-7, 8e-7, 9e-7,
                           1e-6, 2e-6, 3e-6, 4e-6, 5e-6, 6e-6, 7e-6, 8e-6, 9e-6,
                           1e-5, 2e-5, 3e-5, 4e-5, 5e-5, 6e-5, 7e-5, 8e-5, 9e-5],
                "tickSize": {"condition": {"test": "abs(log(datum.value)/LN10 - round(log(datum.value)/LN10)) > 0.01", "value": -2}, "value": -4}}},
            "color": {"field": "series", "type": "nominal"}
          }
        }
      ]
    }
  ],
  "config": {
    "font": "Noto Sans CJK JP",
    "view": {"stroke": "#333", "strokeWidth": 1},
    "axis": {"grid": false, "labelOverlap": false, "labelFlush": false, "domainColor": "#333", "tickColor": "#333",
      "labelFont": "DejaVu Sans Condensed, DejaVu Sans", "labelFontSize": 10, "labelColor": "#111",
      "titleFont": "Noto Sans CJK JP", "titleFontSize": 11, "titleFontWeight": "normal", "titleColor": "#111"},
    "legend": {"labelFont": "DejaVu Sans Mono", "labelColor": "black"},
    "text": {"font": "Noto Sans CJK JP"}
  }
}
